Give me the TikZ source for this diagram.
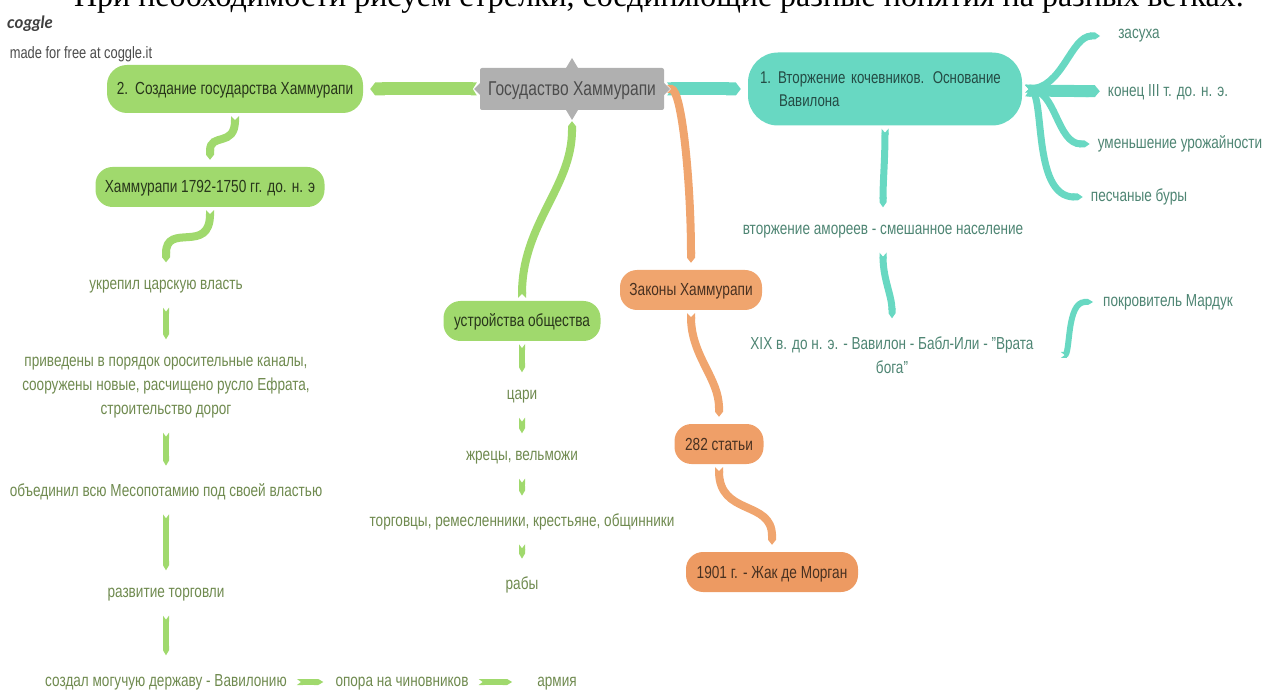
\documentclass[tikz,border=0pt]{standalone}
\usepackage{fontspec}
\setmainfont[FakeStretch=0.78]{Liberation Sans}
\newfontfamily\titlefont{Liberation Serif}
\newfontfamily\logofont{Lato}
\usetikzlibrary{arrows.meta}
\definecolor{leafgreen}{HTML}{A0D96D}
\definecolor{leafteal}{HTML}{68D8C2}
\definecolor{leaforange}{HTML}{F0A56E}
\definecolor{deeporange}{HTML}{ED9A62}
\definecolor{midorange}{HTML}{EF9F68}
\definecolor{govgray}{HTML}{B0B0B0}
\definecolor{textgreen}{HTML}{6F8A4F}
\definecolor{textteal}{HTML}{4E8573}
\newdimen\notchhalf
\pgfdeclarearrow{
  name=Notch,
  parameters={\the\pgflinewidth},
  setup code={
    \notchhalf=.5\pgflinewidth
    \pgfarrowssettipend{0pt}
    \pgfarrowssetlineend{-4pt}
    \pgfarrowssetbackend{-6pt}
    \pgfarrowssetvisualbackend{-6pt}
    \pgfarrowshullpoint{0pt}{\notchhalf}
    \pgfarrowshullpoint{0pt}{-\notchhalf}
    \pgfarrowshullpoint{-6pt}{\notchhalf}
    \pgfarrowshullpoint{-6pt}{-\notchhalf}
    \pgfarrowssavethe\notchhalf
  },
  drawing code={
    \pgfpathmoveto{\pgfqpoint{-6pt}{\notchhalf}}
    \pgfpathlineto{\pgfqpoint{0pt}{\notchhalf}}
    \pgfpathlineto{\pgfqpoint{-4pt}{0pt}}
    \pgfpathlineto{\pgfqpoint{0pt}{-\notchhalf}}
    \pgfpathlineto{\pgfqpoint{-6pt}{-\notchhalf}}
    \pgfpathclose
    \pgfusepathqfill
  }
}
\tikzset{
  box/.style={rounded corners=17pt,inner sep=0pt,minimum height=40pt,text height=15pt,text depth=3pt,font=\fontsize{17.5}{23}\selectfont},
  greenbox/.style={box,fill=leafgreen,text=black!75!leafgreen},
  orangebox/.style={box,fill=leaforange,text=black!70!leaforange},
  leafword/.style={inner xsep=7pt,inner ysep=11pt,yshift=-3pt,align=center,font=\fontsize{17.4}{24}\selectfont},
  greenword/.style={leafword,text=textgreen},
  tealword/.style={leafword,text=textteal},
  bottomword/.style={greenword,text height=13pt,text depth=4pt},
  link/.style={line width=8pt,{Triangle Cap[length=5pt]}-{Notch},shorten <=7pt,shorten >=3pt},
  greenlink/.style={link,draw=leafgreen},
  teallink/.style={link,draw=leafteal},
  orangelink/.style={link,draw=leaforange}
}
\begin{document}
\begin{tikzpicture}[x=1pt,y=1pt]
  \useasboundingbox (0,0) rectangle (1277,689);
  % heading and logo
  \node (heading) at (659,682) [anchor=base,inner sep=0pt,font=\titlefont\fontsize{32}{32}\selectfont] {При необходимости рисуем стрелки, соединяющие разные понятия на разных ветках.};
  \node (logo) at (30,665) [inner sep=0pt,text=black!75,font=\logofont\itshape\bfseries\fontsize{17}{17}\selectfont] {coggle};
  \node (madefor) at (81,635) [inner sep=0pt,text=black!70,font=\fontsize{16.5}{16}\selectfont] {made for free at coggle.it};
  % centre
  \node (gov) at (572,600) [fill=govgray,rounded corners=2pt,inner sep=0pt,minimum width=184pt,minimum height=42pt,text height=16pt,text depth=3pt,text=black!70,font=\fontsize{20}{24}\selectfont] {Госудаство Хаммурапи};
  \fill[govgray] (566,621) -- (572,631) -- (578,621) -- cycle;
  \fill[govgray] (566,579) -- (572,569) -- (578,579) -- cycle;
  \fill[govgray] (480,606) -- (474,600) -- (480,594) -- cycle;
  \fill[govgray] (664,606) -- (670,600) -- (664,594) -- cycle;
  % left branch
  \node (create) at (235,600) [greenbox,rounded corners=20pt,minimum width=256pt,minimum height=48pt] {2.\hspace{7pt}Создание государства Хаммурапи}
    edge [greenlink,line width=13pt,shorten <=7pt,shorten >=3pt] (gov);
  \node (ham) at (210,502) [greenbox,minimum width=229pt] {Хаммурапи 1792-1750 гг. до. н. э}
    edge [greenlink,out=90,in=-90,looseness=1.5] (create);
  \node (ukr) at (166,405) [greenword] {укрепил царскую власть}
    edge [greenlink,out=90,in=-90,looseness=1.6] (ham);
  \node (irrig) at (166,304) [greenword] {приведены в порядок оросительные каналы,\\сооружены новые, расчищено русло Ефрата,\\строительство дорог}
    edge [greenlink,line width=6pt] (ukr);
  \node (unite) at (166,200) [greenword] {объединил всю Месопотамию под своей властью}
    edge [greenlink,line width=6pt] (irrig);
  \node (trade) at (166,97) [greenword] {развитие торговли}
    edge [greenlink,line width=6pt] (unite);
  \node (state) at (166,10) [bottomword] {создал могучую державу - Вавилонию}
    edge [greenlink,line width=6pt] (trade);
  \node (support) at (402,10) [bottomword] {опора на чиновников}
    edge [greenlink,line width=6pt,shorten <=5pt] (state);
  \node (army) at (557,10) [bottomword] {армия}
    edge [greenlink,line width=6pt,shorten <=18pt] (support);
  % society
  \node (society) at (522,368) [greenbox,minimum width=157pt] {устройства общества}
    edge [greenlink,out=90,in=-90,{Notch}-{Triangle Cap[length=5pt]},shorten <=3pt,shorten >=11pt] (gov);
  \node (kings) at (522,295) [greenword] {цари}
    edge [greenlink,line width=6pt] (society);
  \node (priests) at (522,234) [greenword] {жрецы, вельможи}
    edge [greenlink,line width=6pt] (kings);
  \node (traders) at (522,170) [greenword] {торговцы, ремесленники, крестьяне, общинники}
    edge [greenlink,line width=6pt] (priests);
  \node (slaves) at (522,107) [greenword] {рабы}
    edge [greenlink,line width=6pt] (traders);
  % right branch
  \node (invasion) at (885,600) [box,rounded corners=30pt,fill=leafteal,text=black!65!leafteal,minimum width=274pt,minimum height=73pt,text width=250pt,text height=,text depth=,align=left,font=\fontsize{17}{23}\selectfont] {1.\hspace{7pt}Вторжение кочевников. Основание\\\hspace{19pt}Вавилона}
    edge [teallink,line width=13pt,shorten <=7pt,shorten >=3pt] (gov);
  \node (drought) at (1139,656) [tealword] {засуха}
    edge [teallink,out=180,in=0,shorten <=11pt,line width=7pt] (invasion);
  \node (end3) at (1168,600) [tealword] {конец III т. до. н. э.}
    edge [teallink,line width=12pt,shorten <=1pt] (invasion);
  \node (harvest) at (1180,548) [tealword] {уменьшение урожайности}
    edge [teallink,out=180,in=0,line width=7pt,shorten <=1pt] (invasion);
  \node (storms) at (1139,495) [tealword] {песчаные буры}
    edge [teallink,out=180,in=0,out looseness=1.1,in looseness=0.5,line width=7pt,shorten <=1pt] (invasion);
  \node (amorites) at (883,460) [tealword] {вторжение амореев - смешанное население}
    edge [teallink,line width=7pt,out=90,in=-90] (invasion);
  \node (xix) at (892,337) [tealword] {XIX в. до н. э. - Вавилон - Бабл-Или - "Врата\\бога"}
    edge [teallink,line width=7pt,out=90,in=-90] (amorites);
  \node (marduk) at (1168,390) [tealword] {покровитель Мардук}
    edge [teallink,out=180,in=0,line width=6pt,shorten <=3pt,shorten >=20pt] (xix);
  % laws
  \node (laws) at (691,399) [orangebox,minimum width=142pt] {Законы Хаммурапи}
    edge [orangelink,out=90,in=0,out looseness=1.2,in looseness=0.25] (gov);
  \node (articles) at (719,245) [orangebox,fill=midorange,minimum width=89pt] {282 статьи}
    edge [orangelink,out=90,in=-90] (laws);
  \node (morgan) at (772,117) [orangebox,fill=deeporange,minimum width=172pt] {1901 г. - Жак де Морган}
    edge [orangelink,out=90,in=-90,looseness=1.3] (articles);
\end{tikzpicture}
\end{document}
